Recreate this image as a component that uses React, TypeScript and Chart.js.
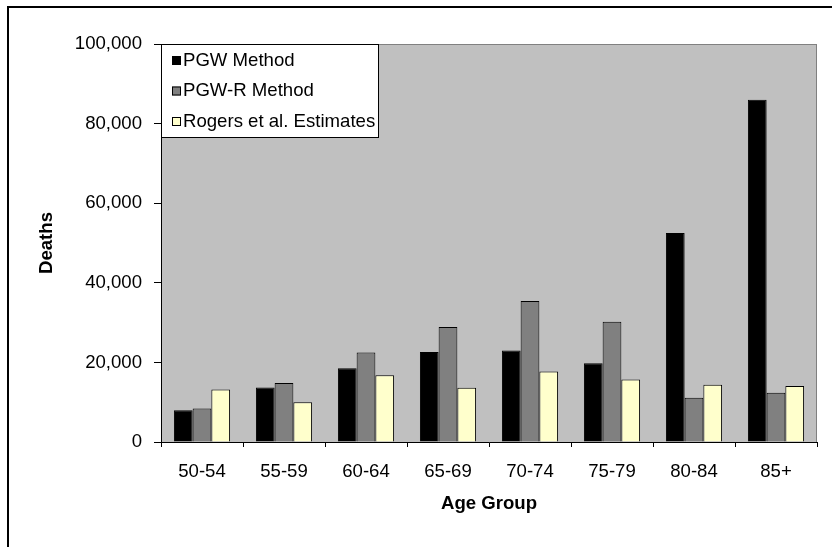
import React, { useEffect, useRef } from "react";
import { Chart, registerables } from "chart.js";

Chart.register(...registerables);

const categories = ["50-54", "55-59", "60-64", "65-69", "70-74", "75-79", "80-84", "85+"];
const pgwMethod = [8000, 13700, 18500, 22600, 23000, 19800, 52500, 86000];
const pgwRMethod = [8400, 14800, 22500, 28900, 35400, 30200, 11100, 12400];
const rogersEstimates = [13200, 10000, 16800, 13600, 17700, 15700, 14400, 14100];
const seriesLabels = ["PGW Method", "PGW-R Method", "Rogers et al. Estimates"];
const seriesColors = ["#000000", "#808080", "#FFFFCC"];
const yTicks = [0, 20000, 40000, 60000, 80000, 100000];

const FONT = "'Liberation Sans', Arial, sans-serif";

const decorPlugin = {
  id: "decor",
  beforeDraw(chart: any) {
    const { ctx, chartArea } = chart;
    ctx.save();
    ctx.fillStyle = "#ffffff";
    ctx.fillRect(0, 0, chart.width, chart.height);
    // outer frame
    ctx.fillStyle = "#000000";
    ctx.fillRect(7, 6, 2, chart.height);
    ctx.fillRect(7, 6, chart.width, 2);
    // plot area background
    ctx.fillStyle = "#C0C0C0";
    ctx.fillRect(chartArea.left, chartArea.top, chartArea.right - chartArea.left, chartArea.bottom - chartArea.top);
    ctx.strokeStyle = "#808080";
    ctx.lineWidth = 1;
    ctx.strokeRect(chartArea.left + 0.5, chartArea.top + 0.5, chartArea.right - chartArea.left - 1, chartArea.bottom - chartArea.top);
    ctx.restore();
  },
  afterDraw(chart: any) {
    const { ctx, chartArea } = chart;
    const x0 = chartArea.left;
    const y0 = chartArea.top;
    const w = 217;
    const h = 93;
    ctx.save();
    ctx.fillStyle = "#ffffff";
    ctx.fillRect(x0, y0, w, h);
    ctx.strokeStyle = "#000000";
    ctx.lineWidth = 1;
    ctx.strokeRect(x0 + 0.5, y0 + 0.5, w, h);
    ctx.font = `18.6px ${FONT}`;
    ctx.textBaseline = "middle";
    ctx.textAlign = "left";
    const rows = [60.5, 91, 121.5];
    chart.data.datasets.forEach((ds: any, i: number) => {
      const cy = rows[i];
      ctx.fillStyle = ds.backgroundColor;
      ctx.fillRect(x0 + 11, cy - 4.5, 9, 9);
      ctx.strokeStyle = "#000000";
      ctx.strokeRect(x0 + 11.5, cy - 4, 8, 8);
      ctx.fillStyle = "#000000";
      ctx.fillText(ds.label, x0 + 22, cy);
    });
    ctx.restore();
  },
};

export default function App() {
  const canvasRef = useRef<HTMLCanvasElement | null>(null);

  useEffect(() => {
    if (!canvasRef.current) return;
    const datasets = [pgwMethod, pgwRMethod, rogersEstimates].map((d, i) => ({
      label: seriesLabels[i],
      data: d,
      backgroundColor: seriesColors[i],
      borderColor: "#000000",
      borderWidth: 1,
      categoryPercentage: 0.685,
      barPercentage: 1,
    }));
    const chart = new Chart(canvasRef.current, {
      type: "bar",
      data: { labels: categories, datasets },
      plugins: [decorPlugin],
      options: {
        animation: false,
        responsive: false,
        maintainAspectRatio: false,
        layout: { padding: { top: 44, right: 15, left: 0, bottom: 0 } },
        plugins: {
          legend: { display: false },
          tooltip: { enabled: false },
        },
        scales: {
          x: {
            afterFit: (scale: any) => {
              scale.height = 105;
            },
            grid: {
              offset: true,
              drawOnChartArea: false,
              drawTicks: true,
              tickLength: 5,
              color: "#000000",
            },
            border: { color: "#000000", width: 1 },
            ticks: {
              color: "#000000",
              padding: 13.5,
              maxRotation: 0,
              autoSkip: false,
              font: { family: FONT, size: 18.6 },
            },
            title: {
              display: true,
              text: "Age Group",
              color: "#000000",
              font: { family: FONT, size: 18.6, weight: "bold" },
              padding: { top: 0, bottom: 31.5 },
            },
          },
          y: {
            min: 0,
            max: 100000,
            afterFit: (scale: any) => {
              scale.width = 161;
            },
            afterBuildTicks: (scale: any) => {
              scale.ticks = yTicks.map((v) => ({ value: v }));
            },
            grid: {
              drawOnChartArea: false,
              drawTicks: true,
              tickLength: 7,
              color: "#000000",
            },
            border: { color: "#000000", width: 1 },
            ticks: {
              color: "#000000",
              padding: 12,
              font: { family: FONT, size: 18.6 },
              callback: (v: any) => Number(v).toLocaleString("en-US"),
            },
            title: {
              display: true,
              text: "Deaths",
              color: "#000000",
              font: { family: FONT, size: 18.6, weight: "bold" },
              padding: { top: 36, bottom: 0 },
            },
          },
        },
      } as any,
    });
    return () => chart.destroy();
  }, []);

  return (
    <div style={{ position: "fixed", left: 0, top: 0, width: 832, height: 547, background: "#fff" }}>
      <canvas ref={canvasRef} width={832} height={547} style={{ display: "block" }} />
    </div>
  );
}
